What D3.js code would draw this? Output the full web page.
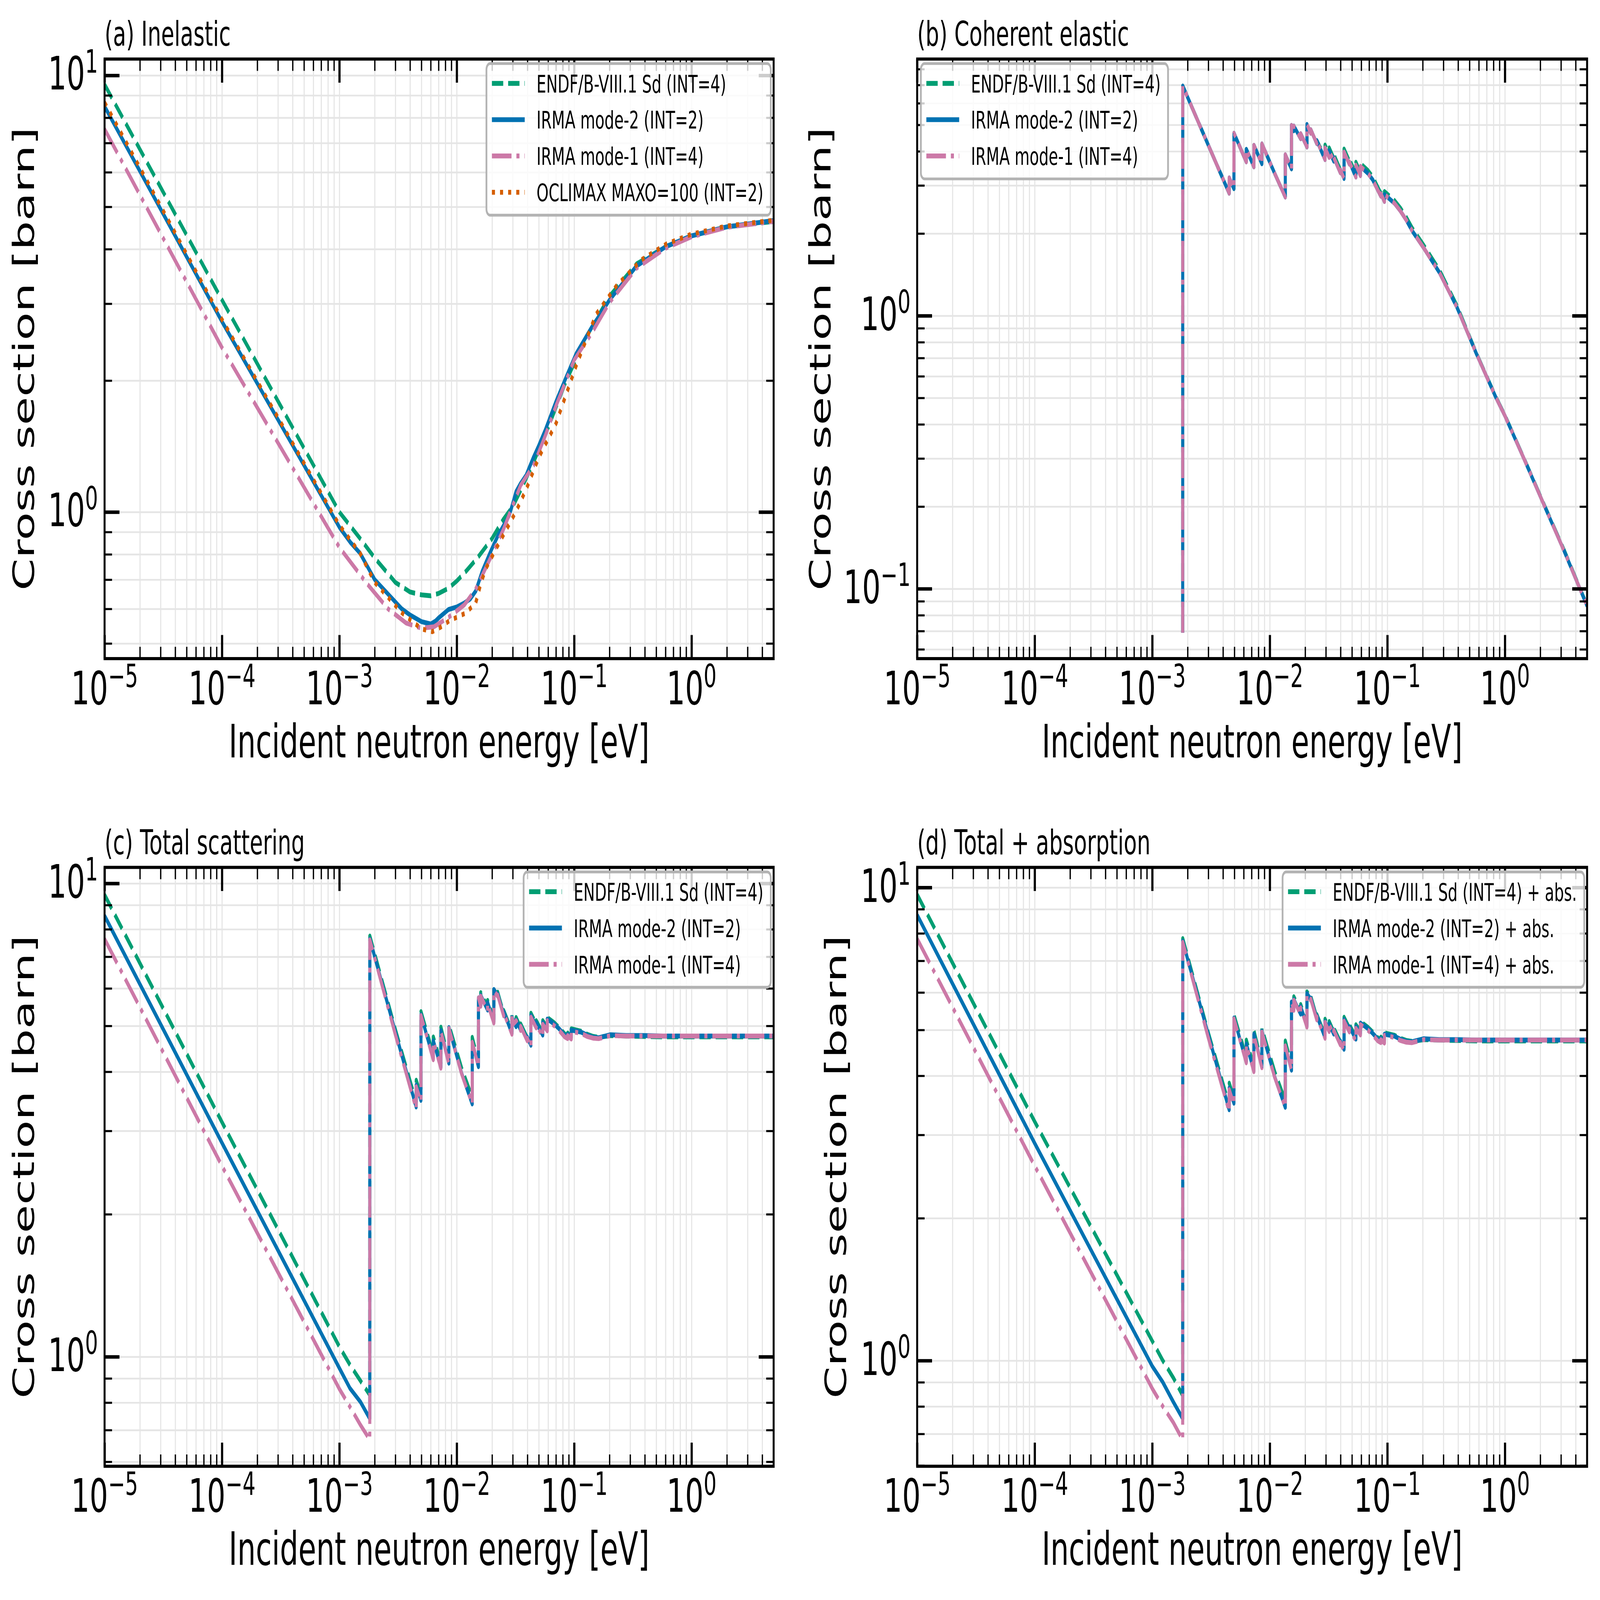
<!DOCTYPE html>
<html>
<head>
<meta charset="utf-8">
<title>Cross sections</title>
<script src="https://cdn.jsdelivr.net/npm/d3@7/dist/d3.min.js"></script>
<style>
  html, body { margin: 0; padding: 0; background: #ffffff; overflow: hidden; }
  svg { display: block; width: 100vw; height: 100vh; }
</style>
</head>
<body>
<svg id="chart" viewBox="0 0 7313 4606" preserveAspectRatio="none" xmlns="http://www.w3.org/2000/svg"></svg>
<script>
// ================= DATA =================
const panelTitles = ["(a) Inelastic", "(b) Coherent elastic", "(c) Total scattering", "(d) Total + absorption"];
const xAxisLabel = "Incident neutron energy [eV]";
const yAxisLabel = "Cross section [barn]";
const xDomainEV = [1e-5, 5];
const xTickVals = [1e-5, 1e-4, 1e-3, 1e-2, 1e-1, 1];
const xTickExps = ["\u22125", "\u22124", "\u22123", "\u22122", "\u22121", "0"];
const yTickValsACD = [1, 10];
const yTickExpsACD = ["0", "1"];
const yTickValsB = [0.1, 1];
const yTickExpsB = ["\u22121", "0"];

const legendA = ["ENDF/B-VIII.1 Sd (INT=4)", "IRMA mode-2 (INT=2)", "IRMA mode-1 (INT=4)", "OCLIMAX MAXO=100 (INT=2)"];
const legendBC = ["ENDF/B-VIII.1 Sd (INT=4)", "IRMA mode-2 (INT=2)", "IRMA mode-1 (INT=4)"];
const legendD = ["ENDF/B-VIII.1 Sd (INT=4) + abs.", "IRMA mode-2 (INT=2) + abs.", "IRMA mode-1 (INT=4) + abs."];

// ---- (a) inelastic ----
const aEndfE  = [1e-5, 1e-4, 1e-3, 1.5e-3, 2e-3, 3e-3, 4e-3, 5e-3, 6e-3, 7e-3, 8.5e-3, 1e-2, 1.2e-2, 1.5e-2, 2e-2, 2.5e-2, 3e-2, 3.5e-2, 4.5e-2, 6e-2, 8.5e-2, 0.126, 0.2, 0.34, 0.6, 1, 2, 5];
const aEndfXS = [9.53, 3.06, 1.00, 0.87, 0.785, 0.69, 0.656, 0.646, 0.643, 0.651, 0.669, 0.695, 0.732, 0.785, 0.87, 0.963, 1.03, 1.12, 1.30, 1.56, 1.99, 2.51, 3.12, 3.70, 4.05, 4.29, 4.50, 4.63];

const aIrma2E  = [1e-5, 1e-4, 1e-3, 1.25e-3, 1.5e-3, 2e-3, 2.5e-3, 3.4e-3, 4e-3, 5e-3, 6e-3, 6.6e-3, 7e-3, 8.5e-3, 1e-2, 1.15e-2, 1.3e-2, 1.45e-2, 1.65e-2, 1.95e-2, 2.25e-2, 2.8e-2, 3e-2, 3.2e-2, 3.5e-2, 3.9e-2, 4.5e-2, 5e-2, 5.7e-2, 7e-2, 8.5e-2, 0.104, 0.14, 0.2, 0.34, 0.6, 1, 2, 5];
const aIrma2XS = [8.49, 2.73, 0.923, 0.85, 0.805, 0.70, 0.656, 0.60, 0.581, 0.561, 0.554, 0.563, 0.572, 0.598, 0.606, 0.618, 0.632, 0.659, 0.732, 0.814, 0.885, 0.983, 1.047, 1.114, 1.163, 1.214, 1.334, 1.42, 1.545, 1.79, 2.03, 2.305, 2.64, 3.06, 3.66, 4.05, 4.29, 4.50, 4.65];

const aIrma1E  = [1e-5, 1e-4, 1e-3, 1.7e-3, 2.6e-3, 3.7e-3, 5e-3, 6.4e-3, 8.6e-3, 1.16e-2, 1.45e-2, 1.95e-2, 2.5e-2, 3.5e-2, 4.5e-2, 5.7e-2, 7e-2, 0.1, 0.14, 0.2, 0.34, 0.6, 1, 2, 5];
const aIrma1XS = [7.53, 2.38, 0.83, 0.688, 0.600, 0.557, 0.542, 0.546, 0.575, 0.613, 0.666, 0.788, 0.913, 1.151, 1.278, 1.50, 1.75, 2.23, 2.56, 3.02, 3.62, 4.02, 4.27, 4.49, 4.63];

const aOclimaxE  = [1e-5, 1e-4, 1e-3, 1.5e-3, 2e-3, 3.4e-3, 5e-3, 6.2e-3, 7.3e-3, 8.6e-3, 1.19e-2, 1.45e-2, 1.6e-2, 1.76e-2, 2.15e-2, 2.6e-2, 3.2e-2, 3.9e-2, 5e-2, 7e-2, 0.104, 0.154, 0.228, 0.373, 0.611, 1, 2, 5];
const aOclimaxXS = [8.67, 2.76, 0.933, 0.805, 0.690, 0.588, 0.540, 0.532, 0.545, 0.563, 0.587, 0.619, 0.685, 0.740, 0.822, 0.904, 1.004, 1.127, 1.334, 1.595, 2.164, 2.84, 3.29, 3.78, 4.11, 4.33, 4.52, 4.66];

// ---- Bragg-edge energy grid (from the first edge upward) ----
const braggE = [1.817e-3, 3.0e-3, 4.51e-3, 4.515e-3, 4.95e-3, 4.955e-3, 6.31e-3, 6.315e-3, 7.32e-3, 7.325e-3,
  8.56e-3, 8.565e-3, 1.1e-2, 1.354e-2, 1.3545e-2, 1.529e-2, 1.5295e-2, 1.60e-2, 1.6005e-2, 1.83e-2,
  1.8305e-2, 2.07e-2, 2.0705e-2, 2.23e-2, 2.2305e-2, 2.51e-2, 2.5105e-2, 2.95e-2, 2.9505e-2, 3.2e-2,
  3.2005e-2, 3.5e-2, 3.5005e-2, 3.98e-2, 3.9805e-2, 4.28e-2, 4.2805e-2, 4.75e-2, 4.7505e-2, 5.4e-2,
  5.4005e-2, 5.9e-2, 5.9005e-2, 6.8e-2, 7.5e-2, 8.3e-2, 8.8e-2, 8.805e-2, 9.44e-2, 9.445e-2,
  0.115, 0.129, 0.145, 0.162, 0.204, 0.277, 0.39, 0.571, 0.836, 1.0,
  1.48, 2.17, 3.18, 5.0];

// ---- (b) coherent elastic ----
const bFloorE = 1.815e-3;
const bFloorXS = 0.069;
const bEndfXS = [6.94, 4.21, 2.81, 3.20, 2.92, 4.66, 3.66, 4.07, 3.51, 4.21,
  3.60, 4.26, 3.32, 2.72, 3.89, 3.45, 4.98, 4.76, 4.95, 4.45,
  4.64, 4.15, 5.02, 4.66, 4.80, 4.27, 4.38, 3.82, 4.22, 3.90,
  4.12, 3.77, 3.90, 3.42, 3.51, 3.26, 4.08, 3.68, 3.75, 3.30,
  3.65, 3.34, 3.61, 3.41, 3.23, 2.95, 2.81, 2.87, 2.69, 2.85,
  2.64, 2.48, 2.29, 2.10, 1.81, 1.47, 1.09, 0.730, 0.505, 0.432,
  0.295, 0.202, 0.139, 0.0868];
const bIrma2XS = [6.94, 4.21, 2.81, 3.20, 2.92, 4.66, 3.66, 4.07, 3.51, 4.21,
  3.60, 4.26, 3.32, 2.72, 3.89, 3.45, 4.98, 4.76, 4.95, 4.45,
  4.64, 4.15, 5.02, 4.66, 4.80, 4.27, 4.38, 3.73, 4.12, 3.80,
  4.02, 3.68, 3.80, 3.34, 3.42, 3.18, 3.98, 3.59, 3.66, 3.22,
  3.56, 3.26, 3.52, 3.33, 3.15, 2.88, 2.74, 2.80, 2.62, 2.78,
  2.58, 2.42, 2.24, 2.05, 1.77, 1.44, 1.076, 0.727, 0.503, 0.430,
  0.294, 0.201, 0.138, 0.0865];
const bIrma1XS = [6.94, 4.21, 2.81, 3.20, 2.92, 4.66, 3.66, 4.07, 3.51, 4.21,
  3.60, 4.26, 3.32, 2.72, 3.89, 3.45, 4.98, 4.76, 4.95, 4.45,
  4.64, 4.15, 5.02, 4.66, 4.80, 4.27, 4.38, 3.73, 4.12, 3.80,
  4.02, 3.68, 3.80, 3.34, 3.42, 3.18, 3.98, 3.59, 3.66, 3.22,
  3.56, 3.26, 3.52, 3.33, 3.15, 2.88, 2.74, 2.80, 2.62, 2.78,
  2.58, 2.42, 2.24, 2.05, 1.77, 1.44, 1.076, 0.727, 0.503, 0.430,
  0.294, 0.201, 0.138, 0.0865];

// ---- below the first Bragg edge (panels c, d) ----
const lowE = [1e-5, 1e-4, 1e-3, 1.23e-3, 1.51e-3, 1.815e-3];

// ---- (c) total scattering ----
const cEndfLow  = [9.46, 3.13, 1.05, 0.962, 0.89, 0.83];
const cIrma2Low = [8.54, 2.83, 0.946, 0.858, 0.803, 0.740];
const cIrma1Low = [7.63, 2.53, 0.855, 0.784, 0.718, 0.668];
const cEndfHigh = [7.74, 4.91, 3.45, 3.84, 3.56, 5.36, 4.35, 4.74, 4.17, 4.97,
  4.24, 5.03, 4.07, 3.53, 4.73, 4.20, 5.83, 5.60, 5.88, 5.47,
  5.66, 5.16, 6.02, 5.85, 5.89, 5.31, 5.39, 4.87, 5.27, 5.04,
  5.21, 4.95, 5.05, 4.72, 4.79, 4.60, 5.32, 5.05, 5.13, 4.83,
  5.13, 4.96, 5.21, 5.07, 4.95, 4.81, 4.76, 4.83, 4.75, 4.93,
  4.87, 4.80, 4.75, 4.73, 4.77, 4.76, 4.75, 4.74, 4.74, 4.74,
  4.74, 4.74, 4.74, 4.74];
const cIrma2High = [7.63, 4.85, 3.37, 3.75, 3.48, 5.28, 4.26, 4.65, 4.09, 4.89,
  4.17, 4.96, 3.97, 3.42, 4.62, 4.10, 5.73, 5.52, 5.80, 5.40,
  5.60, 5.10, 5.97, 5.80, 5.84, 5.28, 5.36, 4.82, 5.21, 4.98,
  5.15, 4.90, 5.00, 4.68, 4.74, 4.55, 5.26, 5.00, 5.08, 4.78,
  5.08, 4.92, 5.17, 5.04, 4.92, 4.78, 4.73, 4.80, 4.72, 4.90,
  4.85, 4.78, 4.73, 4.72, 4.79, 4.77, 4.77, 4.76, 4.76, 4.76,
  4.76, 4.76, 4.76, 4.76];
const cIrma1High = [7.60, 4.79, 3.34, 3.72, 3.46, 5.26, 4.24, 4.63, 4.07, 4.87,
  4.15, 4.94, 3.96, 3.42, 4.62, 4.10, 5.73, 5.50, 5.78, 5.38,
  5.57, 5.07, 5.94, 5.77, 5.81, 5.25, 5.33, 4.80, 5.19, 4.96,
  5.13, 4.89, 4.99, 4.65, 4.71, 4.51, 5.22, 4.95, 5.03, 4.74,
  5.04, 4.88, 5.13, 5.00, 4.88, 4.74, 4.70, 4.77, 4.69, 4.87,
  4.82, 4.75, 4.71, 4.70, 4.77, 4.76, 4.76, 4.76, 4.76, 4.76,
  4.76, 4.76, 4.76, 4.76];

// ---- (d) total + absorption ----
const dEndfLow  = [9.66, 3.20, 1.10, 1.00, 0.92, 0.844];
const dIrma2Low = [8.75, 2.88, 0.973, 0.90, 0.818, 0.754];
const dIrma1Low = [7.79, 2.58, 0.873, 0.80, 0.74, 0.680];
const dEndfHigh = [7.80, 4.93, 3.47, 3.86, 3.58, 5.38, 4.37, 4.76, 4.18, 4.98,
  4.25, 5.04, 4.08, 3.54, 4.74, 4.21, 5.83, 5.60, 5.88, 5.47,
  5.66, 5.16, 6.02, 5.85, 5.89, 5.31, 5.39, 4.87, 5.27, 5.04,
  5.21, 4.95, 5.05, 4.72, 4.79, 4.60, 5.32, 5.05, 5.13, 4.83,
  5.13, 4.96, 5.21, 5.07, 4.95, 4.81, 4.76, 4.83, 4.75, 4.93,
  4.87, 4.80, 4.75, 4.73, 4.77, 4.76, 4.75, 4.74, 4.74, 4.74,
  4.74, 4.74, 4.74, 4.74];
const dIrma2High = [7.70, 4.88, 3.39, 3.77, 3.50, 5.30, 4.28, 4.67, 4.10, 4.90,
  4.18, 4.97, 3.98, 3.43, 4.63, 4.11, 5.73, 5.52, 5.80, 5.40,
  5.60, 5.10, 5.97, 5.80, 5.84, 5.28, 5.36, 4.82, 5.21, 4.98,
  5.15, 4.90, 5.00, 4.68, 4.74, 4.55, 5.26, 5.00, 5.08, 4.78,
  5.08, 4.92, 5.17, 5.04, 4.92, 4.78, 4.73, 4.80, 4.72, 4.90,
  4.85, 4.78, 4.73, 4.72, 4.79, 4.77, 4.77, 4.76, 4.76, 4.76,
  4.76, 4.76, 4.76, 4.76];
const dIrma1High = [7.66, 4.81, 3.36, 3.74, 3.48, 5.28, 4.26, 4.65, 4.08, 4.88,
  4.16, 4.95, 3.97, 3.43, 4.63, 4.11, 5.73, 5.50, 5.78, 5.38,
  5.57, 5.07, 5.94, 5.77, 5.81, 5.25, 5.33, 4.80, 5.19, 4.96,
  5.13, 4.89, 4.99, 4.65, 4.71, 4.51, 5.22, 4.95, 5.03, 4.74,
  5.04, 4.88, 5.13, 5.00, 4.88, 4.74, 4.70, 4.77, 4.69, 4.87,
  4.82, 4.75, 4.71, 4.70, 4.77, 4.76, 4.76, 4.76, 4.76, 4.76,
  4.76, 4.76, 4.76, 4.76];

// ================= STYLE / LAYOUT =================
const FONT = "'DejaVu Sans', 'Liberation Sans', sans-serif";
const LW = 14;
const STY = {
  endf:    { color: "#009E73", dash: "51.8,22.4" },
  irma2:   { color: "#0072B2", dash: null },
  irma1:   { color: "#CC79A7", dash: "89.6,22.4,14,22.4" },
  oclimax: { color: "#D55E00", dash: "14,23.1" }
};
const GRID = "#e5e5e5";

const zip = (E, S) => E.map((e, i) => [e, S[i]]);

const panels = [
  { L: 478, R: 3536, T: 170, B: 1896, yDom: [0.4616, 10.90], ylabX: 155, legSide: "right",
    yTicks: yTickValsACD, yExps: yTickExpsACD, legend: legendA,
    series: [
      { key: "endf", pts: zip(aEndfE, aEndfXS) },
      { key: "irma2", pts: zip(aIrma2E, aIrma2XS) },
      { key: "irma1", pts: zip(aIrma1E, aIrma1XS) },
      { key: "oclimax", pts: zip(aOclimaxE, aOclimaxXS) } ] },
  { L: 4192, R: 7254, T: 170, B: 1896, yDom: [0.05548, 8.71], ylabX: 3795, legSide: "left",
    yTicks: yTickValsB, yExps: yTickExpsB, legend: legendBC,
    series: [
      { key: "endf", pts: [[bFloorE, bFloorXS]].concat(zip(braggE, bEndfXS)) },
      { key: "irma2", pts: [[bFloorE, bFloorXS]].concat(zip(braggE, bIrma2XS)) },
      { key: "irma1", pts: [[bFloorE, bFloorXS]].concat(zip(braggE, bIrma1XS)) } ] },
  { L: 478, R: 3536, T: 2497, B: 4221, yDom: [0.587, 10.81], ylabX: 155, legSide: "right",
    yTicks: yTickValsACD, yExps: yTickExpsACD, legend: legendBC,
    series: [
      { key: "endf", pts: zip(lowE, cEndfLow).concat(zip(braggE, cEndfHigh)) },
      { key: "irma2", pts: zip(lowE, cIrma2Low).concat(zip(braggE, cIrma2High)) },
      { key: "irma1", pts: zip(lowE, cIrma1Low).concat(zip(braggE, cIrma1High)) } ] },
  { L: 4192, R: 7254, T: 2497, B: 4221, yDom: [0.598, 11.03], ylabX: 3868, legSide: "right",
    yTicks: yTickValsACD, yExps: yTickExpsACD, legend: legendD,
    series: [
      { key: "endf", pts: zip(lowE, dEndfLow).concat(zip(braggE, dEndfHigh)) },
      { key: "irma2", pts: zip(lowE, dIrma2Low).concat(zip(braggE, dIrma2High)) },
      { key: "irma1", pts: zip(lowE, dIrma1Low).concat(zip(braggE, dIrma1High)) } ] }
];

// ================= DRAW =================
const svg = d3.select("#chart");
svg.append("rect").attr("width", 7313).attr("height", 4606).attr("fill", "#ffffff");
const defs = svg.append("defs");
const isPow10 = v => Math.abs(Math.log10(v) - Math.round(Math.log10(v))) < 1e-9;

panels.forEach((p, pi) => {
  const g = svg.append("g").attr("class", "panel-" + pi);
  const x = d3.scaleLog().domain(xDomainEV).range([p.L, p.R]);
  const y = d3.scaleLog().domain(p.yDom).range([p.B, p.T]);
  const W = p.R - p.L, H = p.B - p.T;

  const xAll = x.ticks();
  const yAll = y.ticks();
  const xMinor = xAll.filter(v => !isPow10(v));
  const yMinor = yAll.filter(v => !isPow10(v));
  const xMajor = xTickVals;
  const yMajor = p.yTicks;

  // grid (major + minor)
  const gx = g.append("g").attr("transform", `translate(0,${p.B})`)
    .call(d3.axisBottom(x).tickValues(xAll).tickSize(-H).tickFormat(""));
  const gy = g.append("g").attr("transform", `translate(${p.L},0)`)
    .call(d3.axisLeft(y).tickValues(yAll).tickSize(-W).tickFormat(""));
  [gx, gy].forEach(a => {
    a.select(".domain").remove();
    a.selectAll("text").remove();
    a.selectAll("line").attr("stroke", GRID).attr("stroke-width", 5);
  });

  // clip
  defs.append("clipPath").attr("id", "clip" + pi)
    .append("rect").attr("x", p.L).attr("y", p.T).attr("width", W).attr("height", H);

  // data lines
  const line = d3.line().x(d => x(d[0])).y(d => y(d[1]));
  const lg = g.append("g").attr("clip-path", `url(#clip${pi})`);
  p.series.forEach(s => {
    const st = STY[s.key];
    const path = lg.append("path").attr("d", line(s.pts))
      .attr("fill", "none").attr("stroke", st.color).attr("stroke-width", LW)
      .attr("stroke-linejoin", "round").attr("stroke-linecap", "butt");
    if (st.dash) path.attr("stroke-dasharray", st.dash);
  });

  // ticks (inward on all four sides)
  function ticks(gen, tx, ty, vals, len, w) {
    const a = g.append("g").attr("transform", `translate(${tx},${ty})`)
      .call(gen.tickValues(vals).tickSize(-len).tickFormat(""));
    a.select(".domain").remove();
    a.selectAll("text").remove();
    a.selectAll("line").attr("stroke", "#000").attr("stroke-width", w);
  }
  ticks(d3.axisBottom(x), 0, p.B, xMinor, 34, 6);
  ticks(d3.axisBottom(x), 0, p.B, xMajor, 68, 10);
  ticks(d3.axisTop(x), 0, p.T, xMinor, 34, 6);
  ticks(d3.axisTop(x), 0, p.T, xMajor, 68, 10);
  ticks(d3.axisLeft(y), p.L, 0, yMinor, 34, 6);
  ticks(d3.axisLeft(y), p.L, 0, yMajor, 68, 10);
  ticks(d3.axisRight(y), p.R, 0, yMinor, 34, 6);
  ticks(d3.axisRight(y), p.R, 0, yMajor, 68, 10);

  // spines
  g.append("rect").attr("x", p.L).attr("y", p.T).attr("width", W).attr("height", H)
    .attr("fill", "none").attr("stroke", "#000").attr("stroke-width", 9);

  // tick labels
  xMajor.forEach((v, i) => {
    const t = g.append("text").attr("x", x(v)).attr("y", p.B + 131)
      .attr("text-anchor", "middle").attr("font-family", FONT).attr("font-size", 133).attr("fill", "#000");
    t.append("tspan").text("10");
    t.append("tspan").attr("dy", -49).attr("font-size", 93).text(xTickExps[i]);
  });
  yMajor.forEach((v, i) => {
    const t = g.append("text").attr("x", p.L - 30).attr("y", y(v) + 41)
      .attr("text-anchor", "end").attr("font-family", FONT).attr("font-size", 133).attr("fill", "#000");
    t.append("tspan").text("10");
    t.append("tspan").attr("dy", -49).attr("font-size", 93).text(p.yExps[i]);
  });

  // axis labels and title
  g.append("text").attr("x", (p.L + p.R) / 2).attr("y", p.B + 284)
    .attr("text-anchor", "middle").attr("font-family", FONT).attr("font-size", 133).text(xAxisLabel);
  g.append("text").attr("transform", `translate(${p.ylabX},${(p.T + p.B) / 2}) rotate(-90)`)
    .attr("text-anchor", "middle").attr("font-family", FONT).attr("font-size", 133).text(yAxisLabel);
  g.append("text").attr("x", p.L).attr("y", p.T - 38)
    .attr("text-anchor", "start").attr("font-family", FONT).attr("font-size", 98).text(panelTitles[pi]);

  // legend
  const fs = 70, rowH = 104.5, padTop = 57, padBot = 66, hx0 = 25, hlen = 150, tx = 229, padR = 34;
  const leg = g.append("g");
  const box = leg.append("rect");
  const n = p.legend.length;
  const texts = p.legend.map(lab => leg.append("text").attr("font-family", FONT).attr("font-size", fs).text(lab));
  const maxW = d3.max(texts, t => t.node().getComputedTextLength());
  const bw = tx + maxW + padR, bh = padTop + (n - 1) * rowH + padBot;
  const bx = p.legSide === "right" ? p.R - 13 - bw : p.L + 17;
  const by = p.T + 13;
  box.attr("x", bx).attr("y", by).attr("width", bw).attr("height", bh).attr("rx", 17).attr("ry", 17)
    .attr("fill", "#ffffff").attr("fill-opacity", 0.8).attr("stroke", "#b3b3b3").attr("stroke-width", 8);
  texts.forEach((t, i) => t.attr("x", bx + tx).attr("y", by + padTop + i * rowH + 26));
  p.series.forEach((s, i) => {
    const st = STY[s.key];
    const cy = by + padTop + i * rowH;
    const h = leg.append("line").attr("x1", bx + hx0).attr("x2", bx + hx0 + hlen)
      .attr("y1", cy).attr("y2", cy).attr("stroke", st.color).attr("stroke-width", LW)
      .attr("stroke-linecap", "butt");
    if (st.dash) h.attr("stroke-dasharray", st.dash);
  });
});
</script>
</body>
</html>
